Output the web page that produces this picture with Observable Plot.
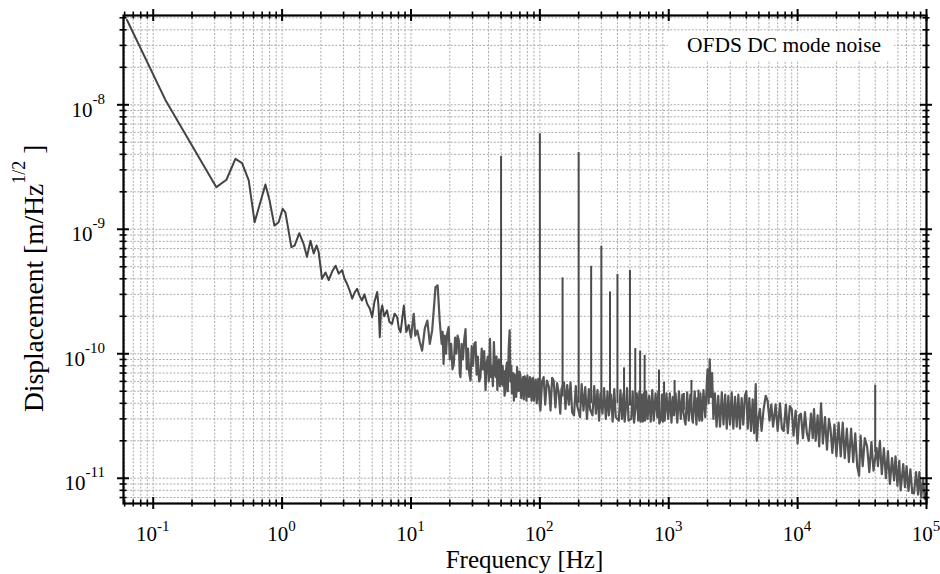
<!DOCTYPE html>
<html><head><meta charset="utf-8">
<script src="https://cdn.jsdelivr.net/npm/d3@7"></script>
<script src="https://cdn.jsdelivr.net/npm/@observablehq/plot@0.6"></script>
<style>html,body{margin:0;padding:0;background:#fff}#chart svg{display:block}</style>
</head><body><div id="chart"></div>
<script>
// ---- data (frequency Hz, displacement m/Hz^1/2) ----
const lowTrend = [[0.0626,4.8e-8],[0.124,1.1e-8],[0.309,2.18e-9],[0.370,2.5e-9],[0.434,3.68e-9],[0.489,3.4e-9],[0.551,2.47e-9],[0.612,1.14e-9],[0.742,2.29e-9],[0.80,1.7e-9],[0.871,1.07e-9],[0.94,1.14e-9],[1.01,1.46e-9],[1.06,1.37e-9],[1.11,1.04e-9],[1.18,7.2e-10],[1.25,7.4e-10],[1.36,9.3e-10],[1.47,7.6e-10],[1.56,6.0e-10],[1.66,8.1e-10],[1.76,6.4e-10],[1.85,7.4e-10],[1.92,6.6e-10],[2.04,4.0e-10],[2.17,4.5e-10],[2.30,3.9e-10],[2.45,4.6e-10],[2.60,5.1e-10],[2.75,4.4e-10],[2.92,4.7e-10],[3.05,4.0e-10],[3.19,3.65e-10],[3.35,3.2e-10],[3.50,2.77e-10],[3.65,3.1e-10],[3.82,3.33e-10],[4.0,2.9e-10],[4.17,2.68e-10],[4.35,3.0e-10],[4.57,2.52e-10],[4.8,2.3e-10],[5.0,1.97e-10],[5.2,2.6e-10],[5.47,3.13e-10],[5.6,2.4e-10],[5.73,1.36e-10],[5.85,2.2e-10],[5.98,2.44e-10],[6.2,2.0e-10],[6.52,2.23e-10],[6.8,1.8e-10],[7.13,1.74e-10],[7.45,2.1e-10],[7.81,1.97e-10],[8.05,1.6e-10],[8.3,1.49e-10],[8.55,1.9e-10],[8.8,2.44e-10],[9.2,1.5e-10],[9.6,1.69e-10]];

const midBand = [[10,1.35e-10],[10.5,2.09e-10],[10.8,1.4e-10],[11.2,1.54e-10],[11.7,1.25e-10],[12.2,1.06e-10],[12.8,1.6e-10],[13.4,1.85e-10],[14,1.2e-10],[14.6,1.54e-10],[15,2.2e-10],[15.5,3.43e-10],[16.1,3.54e-10],[16.7,1.85e-10],[17.3,1.2e-10],[17.6,1.5e-10],[17.9,8.3e-11],[18.3,1.4e-10],[18.7,1.0e-10],[19.1,1.45e-10],[19.6,1.64e-10],[20.0,9.0e-11],[20.5,1.2e-10],[21.0,7.5e-11],[21.5,8.3e-11],[22.0,1.35e-10],[22.5,1.0e-10],[23.0,1.4e-10],[23.5,1.28e-10],[23.9,7.0e-11],[24.2,6.5e-11],[24.7,1.2e-10],[25.3,9.0e-11],[25.9,1.3e-10],[26.5,1.58e-10],[27.1,7.5e-11],[27.7,1.1e-10],[28.3,7.0e-11],[29,6.1e-11],[29.6,1.15e-10],[30.3,8.0e-11],[31,1.2e-10],[31.7,1.24e-10],[32.3,6.8e-11],[33,9.5e-11],[33.8,6.0e-11],[34.6,6.5e-11],[35.4,1.1e-10],[36.2,7.5e-11],[37,1.05e-10],[37.9,5.1e-11],[38.7,8.5e-11],[39.5,9.5e-11],[40.2,6.0e-11],[41,1.32e-10],[41.7,6.5e-11],[42.5,8.0e-11],[43.2,5.5e-11],[44,1.24e-10],[44.8,7.0e-11],[45.5,6.5e-11],[46.1,9.5e-11],[46.8,5.1e-11],[47.5,8.0e-11],[48.2,9.0e-11],[49,5.5e-11],[51,6.0e-11],[51.5,8.0e-11],[52,5.5e-11],[52.5,7.3e-11],[53.2,4.6e-11],[54,5.0e-11],[54.7,7.5e-11],[55.5,8.5e-11],[56.4,5.0e-11],[57.3,1.1e-10],[58.3,1.54e-10],[59.1,6.0e-11],[60,8.0e-11],[60.7,4.8e-11],[61.5,5.5e-11],[62.2,7.0e-11],[62.9,4.2e-11],[63.7,6.8e-11],[64.5,6.5e-11],[65.5,4.5e-11],[66.6,7.8e-11],[67.5,5.5e-11],[68.5,5.0e-11],[69.5,7.2e-11],[70.5,6.8e-11],[71.7,4.4e-11],[72.9,5.7e-11],[74,6.5e-11],[75,4.3e-11],[76.2,6.6e-11],[77.5,6.0e-11],[78.7,4.2e-11],[80,6.7e-11],[81.2,4.6e-11],[82.5,4.5e-11],[83.7,6.5e-11],[85,6.3e-11],[86.2,4.2e-11],[87.5,5.6e-11],[88.7,6.4e-11],[90,4.2e-11],[91.5,5.5e-11],[93,6.2e-11],[94.5,4.0e-11],[96,4.6e-11],[97.2,6.3e-11],[98.5,5.8e-11],[99.5,4.0e-11],[101,3.5e-11],[104,6.0e-11],[107,6.5e-11],[110,3.9e-11],[113.5,6.1e-11],[117.6,5.4e-11],[121,3.5e-11],[124.5,6.4e-11],[128,6.1e-11],[132,3.7e-11],[136,5.8e-11],[140,4.9e-11],[144,3.3e-11],[147,5.2e-11],[154,5.9e-11],[158,3.6e-11],[163,5.6e-11],[168,3.9e-11],[173,5.9e-11],[178,3.4e-11],[184,3.2e-11],[190,5.5e-11],[195,3.8e-11],[205,3.1e-11],[211,5.7e-11],[218,3.5e-11],[225,5.4e-11],[232,3.0e-11],[240,5.2e-11],[245,3.6e-11],[256,3.2e-11],[264,5.5e-11],[272,3.3e-11],[280,5.1e-11],[288,2.9e-11],[295,4.8e-11],[306,3.3e-11],[315,5.3e-11],[325,3.0e-11],[335,5.0e-11],[343,3.2e-11],[357,4.7e-11],[367,2.85e-11],[378,5.2e-11],[388,3.1e-11],[410,2.9e-11],[422,5.1e-11],[434,3.0e-11],[445,4.8e-11],[455,2.85e-11],[462,3.4e-11],[475,5.3e-11],[488,2.9e-11],[512,3.0e-11],[525,5.0e-11],[538,2.8e-11],[565,4.8e-11],[580,2.9e-11],[592,5.0e-11],[605,2.85e-11],[615,4.7e-11],[630,2.85e-11],[640,4.8e-11],[655,2.9e-11],[668,5.0e-11],[685,3.0e-11],[705,4.6e-11],[725,2.85e-11],[745,5.1e-11],[765,2.9e-11],[790,4.8e-11],[815,3.1e-11],[830,5.0e-11],[845,2.75e-11],[870,3.0e-11],[885,4.7e-11],[900,2.85e-11],[915,4.8e-11],[930,2.9e-11],[960,4.8e-11],[990,3.0e-11]];

const highBand = [[1020,4.8e-11],[1050,2.8e-11],[1075,4.5e-11],[1100,3.2e-11],[1130,4.8e-11],[1165,2.8e-11],[1200,5.0e-11],[1240,3.0e-11],[1275,4.7e-11],[1300,3.4e-11],[1330,2.9e-11],[1350,2.7e-11],[1390,4.9e-11],[1430,2.9e-11],[1470,4.7e-11],[1520,3.0e-11],[1540,2.8e-11],[1590,5.0e-11],[1640,2.7e-11],[1670,4.4e-11],[1730,2.9e-11],[1760,4.8e-11],[1810,2.9e-11],[1860,5.1e-11],[1920,3.1e-11],[1970,5.5e-11],[2000,7.5e-11],[2040,4.0e-11],[2080,9.0e-11],[2120,4.5e-11],[2170,7.0e-11],[2220,3.0e-11],[2280,4.8e-11],[2350,2.6e-11],[2420,4.6e-11],[2500,2.6e-11],[2580,4.9e-11],[2660,2.7e-11],[2740,4.7e-11],[2820,2.5e-11],[2900,4.6e-11],[2990,2.7e-11],[3080,4.9e-11],[3170,2.5e-11],[3270,4.5e-11],[3370,2.6e-11],[3470,4.7e-11],[3570,2.5e-11],[3680,4.4e-11],[3790,2.7e-11],[3900,4.6e-11],[4000,5.0e-11],[4100,2.5e-11],[4220,4.4e-11],[4350,2.4e-11],[4480,4.3e-11],[4600,2.3e-11],[4730,5.7e-11],[4820,2.0e-11],[4950,3.0e-11],[5100,3.6e-11],[5250,2.4e-11],[5450,3.6e-11],[5650,4.6e-11],[5850,4.2e-11],[6050,2.9e-11],[6250,3.9e-11],[6450,2.6e-11],[6750,3.9e-11],[7000,2.4e-11],[7300,4.0e-11],[7550,2.5e-11],[7800,2.4e-11],[8100,3.9e-11],[8400,2.3e-11],[8700,3.8e-11],[9000,3.6e-11],[9300,2.2e-11],[9650,3.5e-11],[10000,1.9e-11],[10300,3.2e-11],[10600,3.3e-11],[11000,2.1e-11],[11400,3.4e-11],[11800,2.3e-11],[12200,2.0e-11],[12700,3.3e-11],[13100,2.1e-11],[13400,3.6e-11],[13800,2.0e-11],[14300,3.2e-11],[14700,1.8e-11],[15200,4.0e-11],[15700,1.9e-11],[16300,3.1e-11],[16900,1.7e-11],[17500,3.0e-11],[18000,2.5e-11],[18600,1.6e-11],[19300,2.7e-11],[20000,1.5e-11],[20800,2.8e-11],[21600,1.5e-11],[22400,2.8e-11],[23200,1.45e-11],[24100,2.5e-11],[25000,1.35e-11],[26000,2.5e-11],[27000,1.35e-11],[28000,2.3e-11],[29000,1.25e-11],[30000,1.05e-11],[30800,2.2e-11],[32000,1.25e-11],[33200,2.1e-11],[34600,1.8e-11],[36000,1.12e-11],[37400,1.95e-11],[38800,1.15e-11],[41000,1.75e-11],[42000,1.25e-11],[43500,2.0e-11],[45000,1.08e-11],[46700,1.75e-11],[48400,1.0e-11],[50200,1.65e-11],[52000,9.0e-12],[54000,1.45e-11],[56000,9.6e-12],[57500,1.5e-11],[59500,8.7e-12],[61500,1.38e-11],[63000,8.0e-12],[66000,1.3e-11],[68000,8.5e-12],[70000,1.25e-11],[72500,7.9e-12],[75000,1.18e-11],[77500,7.6e-12],[80000,7.6e-12],[83000,1.12e-11],[86000,7.4e-12],[88000,1.12e-11],[91000,7.0e-12],[94000,1.0e-11],[97000,6.8e-12],[100000,7.6e-12]];

// narrow line peaks (mains harmonics etc.)
const spikeFreq = [50,100,150,200,250,300,350,400,450,500,550,600,650,840,920,1110,1310,1500,1700,40000];
const spikeTop  = [3.85e-9,5.85e-9,4.07e-10,4.13e-9,5.04e-10,7.3e-10,3.14e-10,4.34e-10,7.7e-11,4.67e-10,1.1e-10,1.05e-10,9.7e-11,7.4e-11,5.9e-11,6.1e-11,4.8e-11,6.1e-11,5.1e-11,5.6e-11];
const spikeBase = [6e-11,4.5e-11,4.5e-11,4e-11,4e-11,4e-11,4e-11,4e-11,3.8e-11,3.8e-11,3.8e-11,3.8e-11,3.8e-11,3.5e-11,3.5e-11,3.5e-11,3.5e-11,3.5e-11,3.5e-11,1.6e-11];

// axes
const xMajor = [0.1,1,10,100,1000,10000,100000];
const xExp = ["-1","0","1","2","3","4","5"];
const xMinor = [0.06,0.07,0.08,0.09,0.2,0.3,0.4,0.5,0.6,0.7,0.8,0.9,2,3,4,5,6,7,8,9,20,30,40,50,60,70,80,90,200,300,400,500,600,700,800,900,2000,3000,4000,5000,6000,7000,8000,9000,20000,30000,40000,50000,60000,70000,80000,90000];
const yMajor = [1e-8,1e-9,1e-10,1e-11];
const yExp = ["-8","-9","-10","-11"];
const yMinor = [7e-12,8e-12,9e-12,2e-11,3e-11,4e-11,5e-11,6e-11,7e-11,8e-11,9e-11,2e-10,3e-10,4e-10,5e-10,6e-10,7e-10,8e-10,9e-10,2e-9,3e-9,4e-9,5e-9,6e-9,7e-9,8e-9,9e-9,2e-8,3e-8,4e-8,5e-8];
const xTitle = "Frequency [Hz]";
const yTitleMain = "Displacement [m/Hz";
const yTitleSup = "1/2";
const yTitleEnd = " ]";
const legendLabel = "OFDS DC mode noise";

// ---- layout ----
const W = 940, H = 574, mL = 123, mR = 14, mT = 15, mB = 71;
const FW = W - mL - mR, FH = H - mT - mB;
const FONT = "'Liberation Serif','Times New Roman',serif";
const ink = "#000";

const toRow = ([f, v]) => ({f, v});
const trend = lowTrend.map(toRow);
const band = [lowTrend[lowTrend.length - 1], ...midBand, ...highBand].map(toRow);
const spikes = spikeFreq.map((f, i) => ({f, top: spikeTop[i], base: spikeBase[i]}));
const gridStyle = {stroke: "#ababab", strokeWidth: 1, strokeDasharray: "2,1.6"};

const plot = Plot.plot({
  width: W, height: H,
  marginLeft: mL, marginRight: mR, marginTop: mT, marginBottom: mB,
  x: {type: "log", domain: [0.0588, 1e5], axis: null},
  y: {type: "log", domain: [6.27e-12, 5.215e-8], axis: null},
  style: {fontFamily: FONT, background: "#fff"},
  marks: [
    Plot.ruleX([...xMajor, ...xMinor], gridStyle),
    Plot.ruleY([...yMajor, ...yMinor], gridStyle),
    Plot.ruleX(spikes, {x: "f", y1: "base", y2: "top", stroke: "#4a4a4a", strokeWidth: 2}),
    Plot.line(band, {x: "f", y: "v", stroke: "#555", strokeWidth: 2.2, strokeLinejoin: "round"}),
    Plot.line(trend, {x: "f", y: "v", stroke: "#444", strokeWidth: 2, strokeLinejoin: "round"}),
    Plot.frame({stroke: ink, strokeWidth: 2.2}),
    // ticks crossing the frame on all four sides
    Plot.ruleX(xMajor, {insetTop: FH - 6, insetBottom: -6, stroke: ink, strokeWidth: 2}),
    Plot.ruleX(xMajor, {insetTop: -6, insetBottom: FH - 6, stroke: ink, strokeWidth: 2}),
    Plot.ruleX(xMinor, {insetTop: FH - 3.5, insetBottom: -3.5, stroke: ink, strokeWidth: 1.6}),
    Plot.ruleX(xMinor, {insetTop: -3.5, insetBottom: FH - 3.5, stroke: ink, strokeWidth: 1.6}),
    Plot.ruleY(yMajor, {insetLeft: -6, insetRight: FW - 6, stroke: ink, strokeWidth: 2}),
    Plot.ruleY(yMajor, {insetLeft: FW - 6, insetRight: -6, stroke: ink, strokeWidth: 2}),
    Plot.ruleY(yMinor, {insetLeft: -3.5, insetRight: FW - 3.5, stroke: ink, strokeWidth: 1.6}),
    Plot.ruleY(yMinor, {insetLeft: FW - 3.5, insetRight: -3.5, stroke: ink, strokeWidth: 1.6})
  ]
});

// ---- labels placed with the plot's own scales ----
const svg = d3.select(plot);
const xs = plot.scale("x"), ys = plot.scale("y");
const fx = xs.apply ? (v) => xs.apply(v) : d3.scaleLog().domain(xs.domain).range([mL, W - mR]);
const fy = ys.apply ? (v) => ys.apply(v) : d3.scaleLog().domain(ys.domain).range([H - mB, mT]);

xMajor.forEach((v, i) => {
  const t = svg.append("text").attr("x", fx(v)).attr("y", 541)
    .attr("text-anchor", "middle").attr("font-family", FONT).attr("font-size", 21).attr("fill", ink).text("10");
  t.append("tspan").attr("dy", -10).attr("font-size", 15).text(xExp[i]);
});
yMajor.forEach((v, i) => {
  const t = svg.append("text").attr("x", 105).attr("y", fy(v) + 12.4)
    .attr("text-anchor", "end").attr("font-family", FONT).attr("font-size", 21).attr("fill", ink).text("10");
  t.append("tspan").attr("dy", -13).attr("font-size", 15).text(yExp[i]);
});

svg.append("text").attr("x", (mL + W - mR) / 2).attr("y", 568)
  .attr("text-anchor", "middle").attr("font-family", FONT).attr("font-size", 25).attr("fill", ink).text(xTitle);

const yt = svg.append("text").attr("transform", "translate(43,412) rotate(-90)").attr("text-anchor", "start")
  .attr("font-family", FONT).attr("font-size", 27.5).attr("fill", ink).text(yTitleMain);
yt.append("tspan").attr("dy", -18).attr("font-size", 18).text(yTitleSup);
yt.append("tspan").attr("dy", 18).attr("font-size", 27.5).text(yTitleEnd);

svg.append("rect").attr("x", 668).attr("y", 31).attr("width", 226).attr("height", 29).attr("fill", "#fff");
svg.append("text").attr("x", 687).attr("y", 52).attr("text-anchor", "start")
  .attr("font-family", FONT).attr("font-size", 21.5).attr("fill", ink).text(legendLabel);

document.getElementById("chart").appendChild(plot);
</script>
</body></html>
